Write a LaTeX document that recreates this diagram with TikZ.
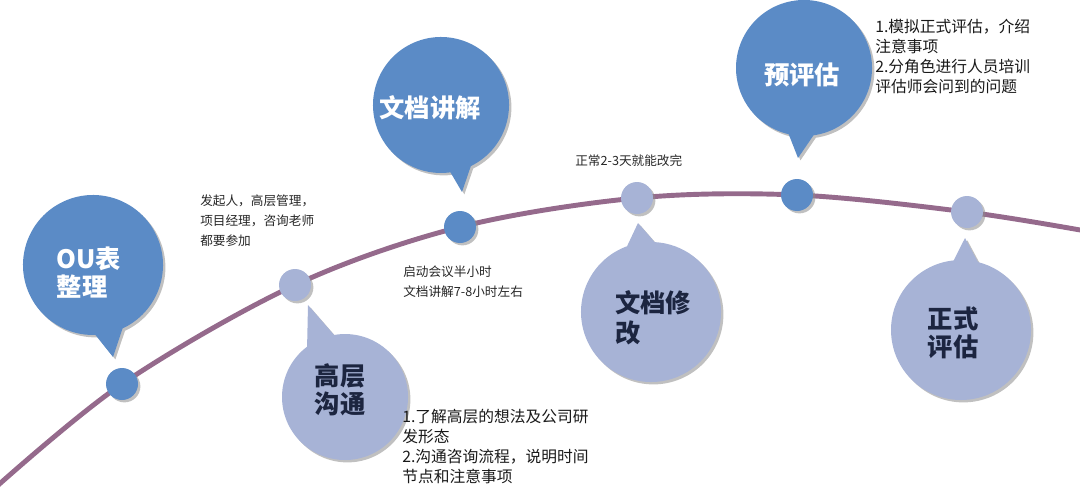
\documentclass[tikz,border=0pt]{standalone}
\usepackage{fontspec}
\setmainfont{Noto Sans CJK SC}
\usetikzlibrary{shadows,calc}
\definecolor{bubDark}{HTML}{5B8BC6}
\definecolor{bubLight}{HTML}{A7B3D6}
\definecolor{txtNavy}{HTML}{1C2540}
\definecolor{curveCol}{HTML}{956A8C}
% #1 centre, #2 radius, #3 first tail angle, #4 second tail angle, #5 tip, #6 colour
\newcommand\mkbubble[6]{%
  \fill[#6,bubshadow] ($(#1)+(#3:#2)$) -- (#5) -- ($(#1)+(#4:#2)$)
    arc[start angle=#4, end angle=#3+360, radius=#2] -- cycle;}
\begin{document}
\begin{tikzpicture}[
  bubshadow/.style={drop shadow={shadow xshift=0.06cm,shadow yshift=-0.06cm,fill=black!45,opacity=0.55}},
  markerdot/.style={circle,minimum size=0.8cm,inner sep=0pt,bubshadow},
  bigtext/.style={font=\fontsize{18}{20}\selectfont\bfseries,align=left,inner sep=0pt},
  smallnote/.style={font=\fontsize{9}{13.9}\selectfont,align=left,inner sep=0pt,anchor=north west,text=black!85},
  bignote/.style={font=\fontsize{11.2}{14.3}\selectfont,align=left,inner sep=0pt,anchor=north west,text=black!90},
  timeline/.style={draw=curveCol,line width=3.5pt}
]
\useasboundingbox (0,0) rectangle (27,12.375);

% timeline points
\coordinate (c0) at (-0.2,0.11);
\coordinate (m1) at (3.05,2.775);
\coordinate (m2) at (7.375,5.25);
\coordinate (m3) at (11.5,6.7);
\coordinate (m4) at (15.925,7.425);
\coordinate (m5) at (19.925,7.5);
\coordinate (m6) at (24.175,7.075);
\coordinate (c7) at (27.2,6.59);

\draw[timeline] plot[smooth,tension=0.55] coordinates {(c0) (m1) (m2) (m3) (m4) (m5) (m6) (c7)};

% bubble centres and tips
\coordinate (b1) at (2.325,5.75);   \coordinate (p1) at (2.825,3.45);
\coordinate (b2) at (8.625,2.45);   \coordinate (p2) at (7.7,4.75);
\coordinate (b3) at (11.025,9.75);  \coordinate (p3) at (11.55,7.575);
\coordinate (b4) at (16.275,4.575); \coordinate (p4) at (15.95,6.8);
\coordinate (b5) at (20.1,10.675);  \coordinate (p5) at (19.95,8.425);
\coordinate (b6) at (24.025,4.125); \coordinate (p6) at (24.125,6.425);

\mkbubble{b1}{1.75cm}{-88}{-65}{p1}{bubDark}
\mkbubble{b2}{1.575cm}{100}{127}{p2}{bubLight}
\mkbubble{b3}{1.7cm}{-82}{-64}{p3}{bubDark}
\mkbubble{b4}{1.75cm}{87}{110}{p4}{bubLight}
\mkbubble{b5}{1.7cm}{-103}{-82}{p5}{bubDark}
\mkbubble{b6}{1.75cm}{76}{96}{p6}{bubLight}

% markers
\node[markerdot,fill=bubDark]  (k1) at (m1) {};
\node[markerdot,fill=bubLight] (k2) at (m2) {};
\node[markerdot,fill=bubDark]  (k3) at (m3) {};
\node[markerdot,fill=bubLight] (k4) at (m4) {};
\node[markerdot,fill=bubDark]  (k5) at (m5) {};
\node[markerdot,fill=bubLight] (k6) at (m6) {};

% bubble labels
\node[bigtext,text=white] (t1) at (2.225,5.55) {OU表\\整理};
\node[bigtext,text=txtNavy] (t2) at (8.5,2.625) {高层\\沟通};
\node[bigtext,text=white] (t3) at (10.75,9.675) {文档讲解};
\node[bigtext,text=txtNavy,anchor=west,font=\fontsize{18}{21}\selectfont\bfseries] (t4) at (15.375,4.425) {文档修\\改};
\node[bigtext,text=white] (t5) at (20.05,10.5) {预评估};
\node[bigtext,text=txtNavy] (t6) at (23.825,4.05) {正式\\评估};

% notes
\node[smallnote] (n1) at (5.0,7.5) {发起人，高层管理，\\项目经理，咨询老师\\都要参加};
\node[smallnote] (n2) at (10.075,5.725) {启动会议半小时\\文档讲解7-8小时左右};
\node[smallnote] (n3) at (14.375,8.525) {正常2-3天就能改完};
\node[bignote] (n4) at (21.875,11.9) {1.模拟正式评估，介绍\\注意事项\\2.分角色进行人员培训\\评估师会问到的问题};
\node[bignote] (n5) at (10.05,2.15) {1.了解高层的想法及公司研\\发形态\\2.沟通咨询流程，说明时间\\节点和注意事项};
\end{tikzpicture}
\end{document}
